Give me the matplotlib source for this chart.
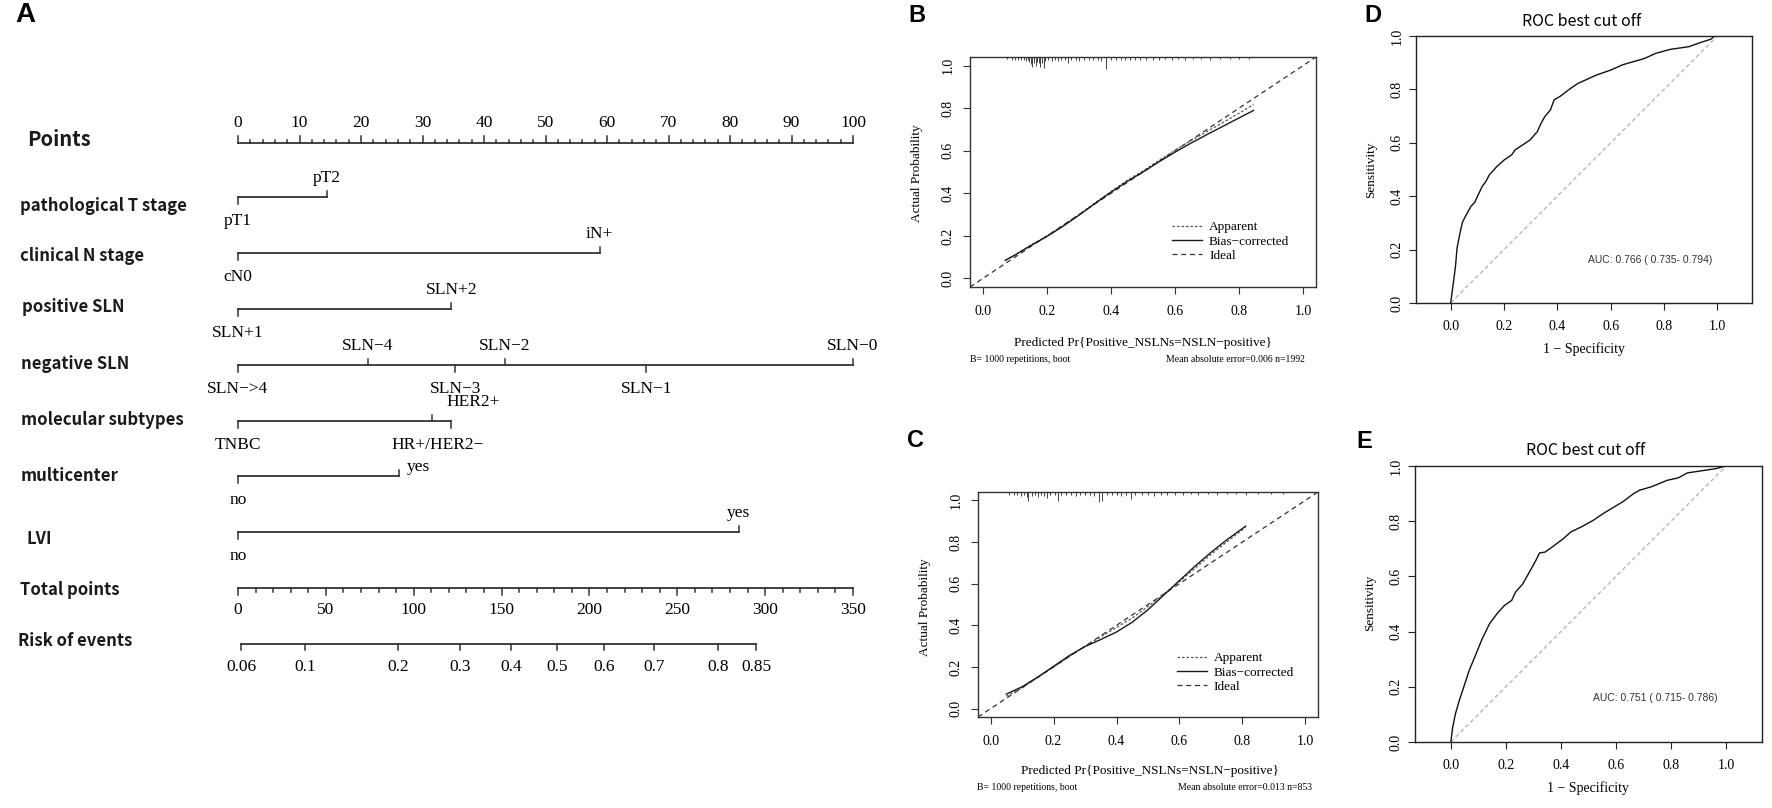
import numpy as np
import matplotlib
matplotlib.use("Agg")
import matplotlib.pyplot as plt
from matplotlib.transforms import blended_transform_factory


# Taille de la figure (pixels)
W, H = 1772, 808

# ---------------- Nomogramme (A) ----------------
variables = ["pathological T stage", "clinical N stage", "positive SLN", "negative SLN",
             "molecular subtypes", "multicenter", "LVI"]
levels = [
    ["pT1", "pT2"],
    ["cN0", "iN+"],
    ["SLN+1", "SLN+2"],
    ["SLN\u2212>4", "SLN\u22124", "SLN\u22123", "SLN\u22122", "SLN\u22121", "SLN\u22120"],
    ["TNBC", "HER2+", "HR+/HER2\u2212"],
    ["no", "yes"],
    ["no", "yes"],
]
level_points = [
    [0, 14.5],
    [0, 58.8],
    [0, 34.7],
    [0, 21.1, 35.3, 43.4, 66.4, 100],
    [0, 31.6, 34.7],
    [0, 26.2],
    [0, 81.4],
]
points_ticks = np.arange(0, 101, 10)
total_ticks = np.arange(0, 351, 50)
risk_labels = ["0.06", "0.1", "0.2", "0.3", "0.4", "0.5", "0.6", "0.7", "0.8", "0.85"]
risk_total_points = [1.7, 38.1, 90.9, 126.2, 155.2, 181.4, 208.1, 236.6, 273.2, 295.0]

# ---------------- Calibration (B, C) ----------------
cal_b_pred = [0.07, 0.1, 0.15, 0.2, 0.25, 0.3, 0.35, 0.4, 0.45, 0.5, 0.55, 0.6, 0.65, 0.7, 0.75, 0.8, 0.845]
cal_b_apparent = [0.085, 0.11, 0.157, 0.2, 0.248, 0.3, 0.355, 0.408, 0.46, 0.505, 0.555, 0.602, 0.648, 0.69, 0.733, 0.776, 0.817]
cal_b_bias = [0.085, 0.11, 0.155, 0.197, 0.245, 0.297, 0.352, 0.405, 0.455, 0.5, 0.548, 0.593, 0.636, 0.676, 0.715, 0.754, 0.789]
rug_b_x = [0.075, 0.09, 0.10, 0.11, 0.12, 0.13, 0.135, 0.14, 0.145, 0.15, 0.155, 0.16, 0.165, 0.17,
           0.175, 0.18, 0.185, 0.19, 0.195, 0.205, 0.215, 0.225, 0.235, 0.245, 0.255, 0.265, 0.275,
           0.29, 0.30, 0.315, 0.33, 0.345, 0.36, 0.37, 0.385, 0.40, 0.415, 0.43, 0.445, 0.46, 0.475,
           0.49, 0.51, 0.53, 0.55, 0.57, 0.59, 0.61, 0.63, 0.655, 0.68, 0.71, 0.74, 0.77, 0.80, 0.83]
rug_b_len = [0.01, 0.012, 0.012, 0.015, 0.012, 0.015, 0.02, 0.015, 0.025, 0.035, 0.045, 0.03, 0.04,
             0.025, 0.03, 0.045, 0.03, 0.05, 0.02, 0.015, 0.02, 0.015, 0.02, 0.015, 0.012, 0.03, 0.015,
             0.012, 0.02, 0.012, 0.015, 0.012, 0.015, 0.02, 0.055, 0.015, 0.012, 0.015, 0.012, 0.015,
             0.012, 0.012, 0.015, 0.012, 0.012, 0.01, 0.012, 0.01, 0.012, 0.01, 0.01, 0.012, 0.01,
             0.01, 0.01, 0.01]

cal_c_pred = [0.05, 0.1, 0.15, 0.2, 0.25, 0.3, 0.35, 0.4, 0.45, 0.5, 0.55, 0.6, 0.65, 0.7, 0.75, 0.81]
cal_c_apparent = [0.06, 0.1, 0.15, 0.2, 0.25, 0.3, 0.345, 0.39, 0.435, 0.49, 0.55, 0.61, 0.675, 0.74, 0.8, 0.87]
cal_c_bias = [0.07, 0.105, 0.152, 0.203, 0.255, 0.298, 0.332, 0.368, 0.415, 0.475, 0.545, 0.615, 0.685, 0.75, 0.81, 0.876]
rug_c_x = [0.06, 0.075, 0.085, 0.095, 0.105, 0.115, 0.12, 0.13, 0.14, 0.15, 0.16, 0.17, 0.18, 0.19,
           0.205, 0.215, 0.225, 0.24, 0.255, 0.27, 0.285, 0.30, 0.315, 0.33, 0.345, 0.355, 0.37,
           0.385, 0.40, 0.415, 0.43, 0.445, 0.46, 0.48, 0.50, 0.52, 0.54, 0.56, 0.585, 0.61, 0.635,
           0.66, 0.69, 0.72, 0.75, 0.78, 0.81, 0.85, 0.89, 0.93]
rug_c_len = [0.012, 0.015, 0.012, 0.02, 0.015, 0.025, 0.045, 0.02, 0.015, 0.025, 0.015, 0.02, 0.03,
             0.012, 0.015, 0.045, 0.012, 0.015, 0.012, 0.02, 0.012, 0.015, 0.012, 0.02, 0.05, 0.045,
             0.015, 0.012, 0.015, 0.02, 0.012, 0.035, 0.012, 0.015, 0.012, 0.02, 0.012, 0.015, 0.012,
             0.012, 0.01, 0.012, 0.01, 0.012, 0.01, 0.01, 0.012, 0.01, 0.01, 0.01]

# ---------------- ROC (D, E) ----------------
roc_d_fpr = [0, 0.010, 0.018, 0.024, 0.035, 0.044, 0.055, 0.076, 0.090, 0.118, 0.132, 0.145, 0.173,
             0.201, 0.229, 0.242, 0.270, 0.298, 0.325, 0.339, 0.353, 0.374, 0.388, 0.409, 0.450,
             0.478, 0.512, 0.547, 0.602, 0.644, 0.686, 0.727, 0.769, 0.824, 0.893, 0.935, 0.976,
             0.990, 1.0]
roc_d_tpr = [0, 0.075, 0.137, 0.206, 0.262, 0.302, 0.324, 0.362, 0.377, 0.436, 0.455, 0.480, 0.511,
             0.536, 0.555, 0.574, 0.592, 0.611, 0.642, 0.673, 0.698, 0.723, 0.761, 0.773, 0.804,
             0.823, 0.838, 0.854, 0.873, 0.892, 0.904, 0.916, 0.935, 0.950, 0.960, 0.975, 0.988,
             1.0, 1.0]
roc_e_fpr = [0, 0.007, 0.017, 0.031, 0.047, 0.067, 0.087, 0.114, 0.141, 0.168, 0.195, 0.221, 0.235,
             0.262, 0.289, 0.309, 0.322, 0.342, 0.369, 0.409, 0.436, 0.477, 0.517, 0.557, 0.597,
             0.624, 0.664, 0.685, 0.732, 0.785, 0.826, 0.859, 0.906, 0.960, 1.0]
roc_e_tpr = [0, 0.054, 0.103, 0.151, 0.199, 0.260, 0.308, 0.374, 0.429, 0.465, 0.495, 0.513, 0.543,
             0.574, 0.622, 0.658, 0.685, 0.688, 0.707, 0.737, 0.761, 0.781, 0.803, 0.830, 0.854,
             0.870, 0.900, 0.912, 0.926, 0.948, 0.957, 0.975, 0.982, 0.990, 1.0]

SERIF = "Liberation Serif"
SANS = "Noto Sans CJK SC"
LINE_C = "#333333"


def fig_xy(px, py):
    return px / W, 1 - py / H


def add_ax(left, top, right, bottom):
    return fig.add_axes([left / W, 1 - bottom / H, (right - left) / W, (bottom - top) / H])


fig = plt.figure(figsize=(W / 100, H / 100), dpi=100)

# ================= A : nomogramme =================
X0, PX_PER_PT, A_RIGHT = 238, 6.15, 880
axa = fig.add_axes([0, 0, A_RIGHT / W, 1])
axa.set_xlim(-X0 / PX_PER_PT, (A_RIGHT - X0) / PX_PER_PT)
axa.set_ylim(H, 0)
axa.axis("off")
lab_tr = blended_transform_factory(axa.transAxes, axa.transData)

def row_label(txt, px, py, size=12):
    axa.text(px / A_RIGHT, py, txt, transform=lab_tr, ha="left", va="center",
             fontsize=size, family=SANS, weight="bold", color="#1a1a1a")

# Points
y = 143
axa.plot([0, 100], [y, y], color=LINE_C, lw=1.3)
for p in np.arange(0, 101, 2):
    ln = 7 if p % 10 == 0 else 3.5
    axa.plot([p, p], [y, y - ln], color=LINE_C, lw=1.1)
for p in points_ticks:
    axa.text(p, 123, str(p), ha="center", va="center", fontsize=12.5, family=SERIF)
row_label("Points", 27, 140, size=14.5)

# Variables
row_lines = [197, 253, 309, 365, 421, 476, 532]
row_texts = [206, 256, 307, 364, 420, 476, 539]
row_text_x = [20, 20, 22, 21, 21, 21, 27]
sides = [["b", "a"], ["b", "a"], ["b", "a"], ["b", "a", "b", "a", "b", "a"],
         ["b", "a", "b"], ["b", "r"], ["b", "a"]]
label_shift = {(4, 1): 6.7, (4, 2): -2.2, (5, 1): 3.2}

for i, var in enumerate(variables):
    y = row_lines[i]
    pts = level_points[i]
    axa.plot([min(pts), max(pts)], [y, y], color=LINE_C, lw=1.3)
    for j, (lev, p) in enumerate(zip(levels[i], pts)):
        s = sides[i][j]
        if s == "b":
            axa.plot([p, p], [y, y + 7], color=LINE_C, lw=1.1)
            ty = y + 24
        else:
            axa.plot([p, p], [y, y - 6], color=LINE_C, lw=1.1)
            ty = y - 9 if s == "r" else y - 19
        axa.text(p + label_shift.get((i, j), 0), ty, lev, ha="center", va="center",
                 fontsize=12.5, family=SERIF)
    row_label(var, row_text_x[i], row_texts[i])

# Total points
k = 100 / 350
y = 588
axa.plot([0, 350 * k], [y, y], color=LINE_C, lw=1.3)
for t in np.arange(0, 351, 10):
    ln = 7 if t % 50 == 0 else 4
    axa.plot([t * k, t * k], [y, y + ln], color=LINE_C, lw=1.1)
for t in total_ticks:
    axa.text(t * k, 610, str(t), ha="center", va="center", fontsize=12.5, family=SERIF)
row_label("Total points", 20, 590)

# Risk of events
y = 644
rk = [r * k for r in risk_total_points]
axa.plot([rk[0], rk[-1]], [y, y], color=LINE_C, lw=1.3)
for xv, lab in zip(rk, risk_labels):
    axa.plot([xv, xv], [y, y + 6], color=LINE_C, lw=1.1)
    axa.text(xv, 667, lab, ha="center", va="center", fontsize=12.5, family=SERIF)
row_label("Risk of events", 18, 641)


# ================= B, C : calibration =================
def calib(ax, pred, app, bias, rx, rlen):
    ax.set_xlim(-0.04, 1.04)
    ax.set_ylim(-0.04, 1.04)
    ideal = ax.axline((0, 0), (1, 1), color="#333333", lw=0.9, ls=(0, (4, 3)), label="Ideal")
    l_app, = ax.plot(pred, app, color="#555555", lw=0.9, ls=(0, (2, 1.6)), label="Apparent")
    l_bias, = ax.plot(pred, bias, color="#1a1a1a", lw=1.0, label="Bias\u2212corrected")
    ax.vlines(rx, 1.04 - np.array(rlen), 1.04, color="#444444", lw=0.7)
    ticks = np.arange(0, 1.01, 0.2)
    ax.set_xticks(ticks)
    ax.set_yticks(ticks)
    ax.set_xticklabels([f"{v:.1f}" for v in ticks], family=SERIF, fontsize=10)
    ax.set_yticklabels([f"{v:.1f}" for v in ticks], family=SERIF, fontsize=10,
                       rotation=90, va="center")
    ax.tick_params(axis="both", length=5, width=0.8, color="#333333")
    ax.tick_params(axis="x", pad=8)
    ax.tick_params(axis="y", pad=6)
    for sp in ax.spines.values():
        sp.set_linewidth(1.0)
        sp.set_color("#333333")
    leg = ax.legend(handles=[l_app, l_bias, ideal], loc="center left",
                    bbox_to_anchor=(0.565, 0.198), frameon=False, handlelength=2.3,
                    handletextpad=0.5, labelspacing=0.15, borderpad=0,
                    prop={"family": SERIF, "size": 9.5})
    return leg


axb = add_ax(970, 57, 1316, 287)
calib(axb, cal_b_pred, cal_b_apparent, cal_b_bias, rug_b_x, rug_b_len)
axc = add_ax(978, 492, 1318, 717)
calib(axc, cal_c_pred, cal_c_apparent, cal_c_bias, rug_c_x, rug_c_len)

xlab = "Predicted Pr{Positive_NSLNs=NSLN\u2212positive}"
for (ylx, yly, xlx, xly, suby, err) in [(917, 173, 1143, 343, 359, "Mean absolute error=0.006 n=1992"),
                                         (925, 607, 1150, 771, 788, "Mean absolute error=0.013 n=853")]:
    fig.text(*fig_xy(ylx, yly), "Actual Probability", rotation=90, ha="center", va="center",
             family=SERIF, fontsize=9.5)
    fig.text(*fig_xy(xlx, xly), xlab, ha="center", va="center", family=SERIF, fontsize=9.5)
    fig.text(*fig_xy(xlx - 173, suby), "B= 1000 repetitions, boot", ha="left", va="center",
             family=SERIF, fontsize=7)
    fig.text(*fig_xy(xlx + 162, suby), err, ha="right", va="center", family=SERIF, fontsize=7)


# ================= D, E : ROC =================
def roc(ax, fpr, tpr, auc_txt):
    ax.set_xlim(-0.13, 1.13)
    ax.set_ylim(0, 1)
    ax.axline((0, 0), (1, 1), color="#b8b8b8", lw=1.0, ls=(0, (3, 2)))
    ax.plot(fpr, tpr, color="#111111", lw=1.0)
    ax.text(0.515, 0.16, auc_txt, ha="left", va="center", family="Liberation Sans",
            fontsize=7.5, color="#333333")
    ticks = np.arange(0, 1.01, 0.2)
    ax.set_xticks(ticks)
    ax.set_yticks(ticks)
    ax.set_xticklabels([f"{v:.1f}" for v in ticks], family=SERIF, fontsize=10)
    ax.set_yticklabels([f"{v:.1f}" for v in ticks], family=SERIF, fontsize=10,
                       rotation=90, va="center")
    ax.tick_params(axis="both", length=5, width=0.8, color="#222222")
    ax.tick_params(axis="x", pad=7)
    ax.tick_params(axis="y", pad=4)
    for sp in ax.spines.values():
        sp.set_linewidth(1.0)
        sp.set_color("#222222")


axd = add_ax(1416, 36, 1752, 303)
roc(axd, roc_d_fpr, roc_d_tpr, "AUC: 0.766 ( 0.735- 0.794)")
axe = add_ax(1415, 466, 1762, 742)
roc(axe, roc_e_fpr, roc_e_tpr, "AUC: 0.751 ( 0.715- 0.786)")

for (tx, ty, sx, sy, lx, ly) in [(1582, 21, 1371, 170, 1584, 349), (1586, 450, 1370, 603, 1588, 788)]:
    fig.text(*fig_xy(tx, ty), "ROC best cut off", ha="center", va="center", family=SANS, fontsize=11.5)
    fig.text(*fig_xy(sx, sy), "Sensitivity", rotation=90, ha="center", va="center",
             family=SERIF, fontsize=9.5)
    fig.text(*fig_xy(lx, ly), "1 \u2212 Specificity", ha="center", va="center", family=SERIF,
             fontsize=10)

# Lettres des panneaux
for lab, px, py, sz in [("A", 15, 15, 20), ("B", 908, 16, 17), ("C", 907, 440, 17),
                        ("D", 1364, 16, 17), ("E", 1356, 441, 17)]:
    fig.text(*fig_xy(px, py), lab, ha="left", va="center", family="Liberation Sans",
             weight="bold", fontsize=sz)

fig.savefig("out.png", dpi=100)
